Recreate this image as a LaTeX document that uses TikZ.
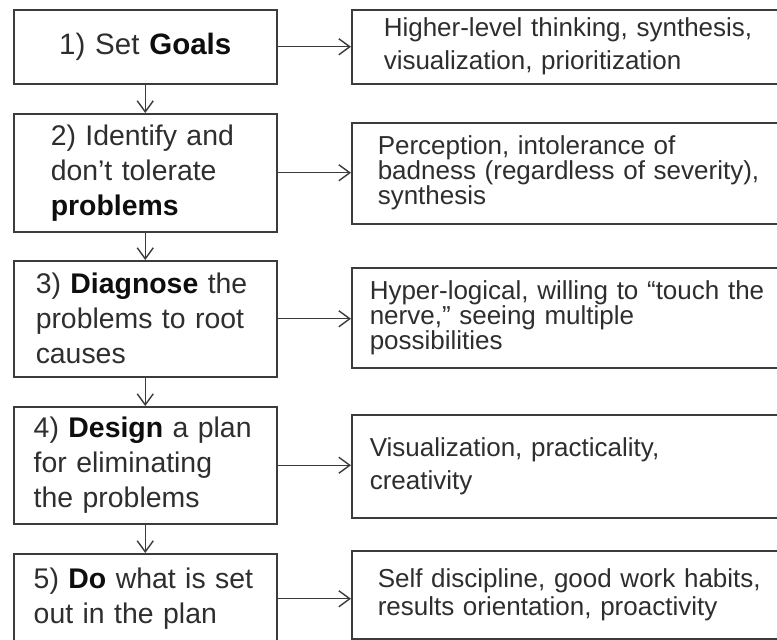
\documentclass[tikz,border=0pt]{standalone}
\usepackage{fontspec}
\setmainfont{Liberation Sans}
\usetikzlibrary{arrows.meta}
\definecolor{boxline}{HTML}{3c3c3c}
\definecolor{plaintext}{HTML}{2e2e2e}
\definecolor{boldtext}{HTML}{0e0e0e}
\newcommand{\kw}[1]{\textbf{\color{boldtext}#1}}

\begin{document}
\begin{tikzpicture}[x=1pt, y=-1pt,
    stagebox/.style={draw=boxline, line width=1.5pt, fill=white, text=plaintext,
        anchor=north west, minimum width=263pt, inner ysep=0pt, align=left,
        font=\fontsize{28.4}{35}\selectfont},
    traitbox/.style={draw=boxline, line width=1.5pt, fill=white, text=plaintext,
        anchor=north west, minimum width=449pt, inner ysep=0pt, align=left,
        font=\fontsize{26}{28}\selectfont},
    flow/.style={draw=boxline, line width=1.4pt,
        -{Straight Barb[length=11pt,width=16pt]}}]
    \def \lx {13}   % left edge of the process steps
    \def \rx {351}  % left edge of the traits column
    % page
    \useasboundingbox (0,0) rectangle (777,640);
    \clip (0,0) rectangle (777,640);
    \fill[white] (0,0) rectangle (777,640);
    % process steps
    \node[stagebox, minimum height=74pt, inner xsep=0pt, text width=263pt, align=center,
        font=\fontsize{29.5}{35}\selectfont]
        (L1) at (\lx,9) {1) Set \kw{Goals}};
    \node[stagebox, minimum height=118pt, inner xsep=37pt, text width=189pt]
        (L2) at (\lx,113) {2) Identify and\\don’t tolerate\\\kw{problems}};
    \node[stagebox, minimum height=116pt, inner xsep=22pt, text width=219pt]
        (L3) at (\lx,260) {3) \kw{Diagnose} the\\problems to root\\causes};
    \node[stagebox, minimum height=117pt, inner xsep=20pt, text width=223pt]
        (L4) at (\lx,406) {4) \kw{Design} a plan\\for eliminating\\the problems};
    \node[stagebox, minimum height=90pt, inner xsep=20pt, text width=223pt]
        (L5) at (\lx,553) {5) \kw{Do} what is set\\out in the plan};
    % traits needed for each step
    \node[traitbox, minimum height=74pt, inner xsep=32pt, text width=385pt,
        font=\fontsize{26}{33}\selectfont]
        (R1) at (\rx,9) {Higher-level thinking, synthesis,\\visualization, prioritization};
    \node[traitbox, minimum height=101pt, inner xsep=26pt, text width=397pt,
        font=\fontsize{26}{25}\selectfont]
        (R2) at (\rx,122) {Perception, intolerance of\\badness (regardless of severity),\\synthesis};
    \node[traitbox, minimum height=100pt, inner xsep=18pt, text width=413pt,
        font=\fontsize{26}{25}\selectfont]
        (R3) at (\rx,267) {Hyper-logical, willing to “touch the\\nerve,” seeing multiple\\possibilities};
    \node[traitbox, minimum height=103pt, inner xsep=18pt, text width=413pt,
        font=\fontsize{26}{33}\selectfont]
        (R4) at (\rx,414) {Visualization, practicality,\\creativity};
    \node[traitbox, minimum height=88pt, inner xsep=26pt, text width=397pt]
        (R5) at (\rx,550) {Self discipline, good work habits,\\results orientation, proactivity};
    % arrows down the steps
    \foreach \i [count=\j from 2] in {1,...,4}
        \draw[flow] (L\i.south) -- (L\j.north);
    % arrows across to the traits
    \foreach \i in {1,...,5}
        \draw[flow] (L\i.east) -- (L\i.east -| R\i.west);
\end{tikzpicture}
\end{document}
